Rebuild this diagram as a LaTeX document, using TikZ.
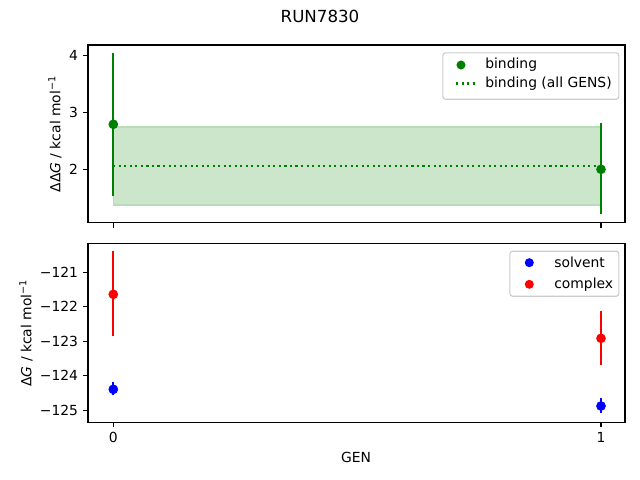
\documentclass[tikz,border=0pt]{standalone}
\usepackage{fontspec}
\setmainfont{DejaVu Sans}
\definecolor{mgreen}{HTML}{008000}
\definecolor{mblue}{HTML}{0000FF}
\definecolor{mred}{HTML}{FF0000}
\definecolor{shadefill}{HTML}{CCE6CC}
\definecolor{shadeedge}{HTML}{B8DCB8}
\definecolor{legedge}{HTML}{CCCCCC}
\begin{document}
\begin{tikzpicture}[x=0.72pt,y=-0.72pt,
  frame/.style={draw=black,line width=0.8pt},
  tickmark/.style={draw=black,line width=0.8pt},
  lbl/.style={font=\fontsize{10}{12}\selectfont,inner sep=0pt,text=black},
  ebar/.style={line width=1.5pt,draw=#1},
  mk/.style={circle,fill=#1,draw=none,inner sep=0pt,minimum size=7pt},
  legbox/.style={draw=legedge,fill=white,fill opacity=0.8,text opacity=1,rounded corners=2pt,line width=0.8pt},
  dotline/.style={draw=mgreen,line width=1.5pt,dash pattern=on 1.5pt off 2.475pt},
  ]
\useasboundingbox (0,0) rectangle (640,480);

% ---------- title ----------
\node[lbl,font=\fontsize{12}{14}\selectfont] (title) at (320,16.5) {RUN7830};

% ================= TOP AXES =================
\coordinate (tTL) at (88,45);
\coordinate (tBR) at (625,222.7);
% shaded band
\filldraw[fill=shadefill,draw=shadeedge,line width=0.8pt] (113.3,127) rectangle (601,205);
% dotted mean line
\coordinate (dotA) at (113.3,165.7);
\coordinate (dotB) at (601,165.7);
\draw[dotline] (dotA) -- (dotB);
% error bars
\coordinate (b0top) at (113.3,53.3);
\coordinate (b0bot) at (113.3,195.7);
\coordinate (b1top) at (601,123.3);
\coordinate (b1bot) at (601,214.3);
\draw[ebar=mgreen] (b0top) -- (b0bot);
\draw[ebar=mgreen] (b1top) -- (b1bot);
\node[mk=mgreen] (g0) at (113.3,124.3) {};
\node[mk=mgreen] (g1) at (601,169.3) {};
% frame
\draw[frame] (tTL) rectangle (tBR);
% y ticks
\foreach \yy/\tl in {55.3/4,112.3/3,169.3/2}{
  \draw[tickmark] (88,\yy) -- ++(-3.5pt,0);
  \node[lbl,anchor=east] at (78.3,\yy) {\tl};
}
% x ticks (no labels)
\foreach \xx in {113.3,601}{
  \draw[tickmark] (\xx,222.7) -- ++(0,-3.5pt);
}
% y label
\node[lbl,rotate=90] (ylabtop) at (55,134) {ΔΔ\textit{G} / kcal mol\textsuperscript{−1}};
% legend
\node[legbox,minimum width=176*0.72pt,minimum height=46.4*0.72pt,anchor=north west] (leg1) at (442.3,52.3) {};
\node[mk=mgreen,minimum size=6.5pt] (leg1mk) at (461,65) {};
\node[lbl,anchor=west] (leg1t1) at (485,65) {binding};
\coordinate (leg1la) at (456,83.5);
\coordinate (leg1lb) at (475,83.5);
\draw[dotline] (leg1la) -- (leg1lb);
\node[lbl,anchor=west] (leg1t2) at (485,83.5) {binding (all GENS)};

% ================= BOTTOM AXES =================
\coordinate (bTL) at (88,243.3);
\coordinate (bBR) at (625,422.3);
% error bars
\coordinate (r0top) at (113.3,250.7);
\coordinate (r0bot) at (113.3,336);
\coordinate (s0top) at (113.3,382);
\coordinate (s0bot) at (113.3,395.3);
\coordinate (r1top) at (601,311);
\coordinate (r1bot) at (601,365);
\coordinate (s1top) at (601,398.3);
\coordinate (s1bot) at (601,413.3);
\draw[ebar=mred] (r0top) -- (r0bot);
\draw[ebar=mblue] (s0top) -- (s0bot);
\draw[ebar=mred] (r1top) -- (r1bot);
\draw[ebar=mblue] (s1top) -- (s1bot);
\node[mk=mred] (red0) at (113.3,294.3) {};
\node[mk=mblue] (blue0) at (113.3,389.3) {};
\node[mk=mred] (red1) at (601,338.3) {};
\node[mk=mblue] (blue1) at (601,406) {};
% frame
\draw[frame] (bTL) rectangle (bBR);
% y ticks
\foreach \yy/\tl in {272.3/−121,306.8/−122,341.3/−123,375.8/−124,410.3/−125}{
  \draw[tickmark] (88,\yy) -- ++(-3.5pt,0);
  \node[lbl,anchor=east] at (78.3,\yy) {\tl};
}
% x ticks with labels
\foreach \xx/\tl in {113.3/0,601/1}{
  \draw[tickmark] (\xx,422.3) -- ++(0,-3.5pt);
  \node[lbl,anchor=north] at (\xx,432.2) {\tl};
}
% labels
\node[lbl,rotate=90] (ylabbot) at (26,333) {Δ\textit{G} / kcal mol\textsuperscript{−1}};
\node[lbl] (xlab) at (356,457.3) {GEN};
% legend
\node[legbox,minimum width=109*0.72pt,minimum height=45*0.72pt,anchor=north west] (leg2) at (509.3,250.7) {};
\node[mk=mblue,minimum size=6.5pt] (leg2mk1) at (529.3,262.7) {};
\node[lbl,anchor=west] (leg2t1) at (554,262.7) {solvent};
\node[mk=mred,minimum size=6.5pt] (leg2mk2) at (529.3,284.3) {};
\node[lbl,anchor=west] (leg2t2) at (554,284.3) {complex};
\end{tikzpicture}
\end{document}
